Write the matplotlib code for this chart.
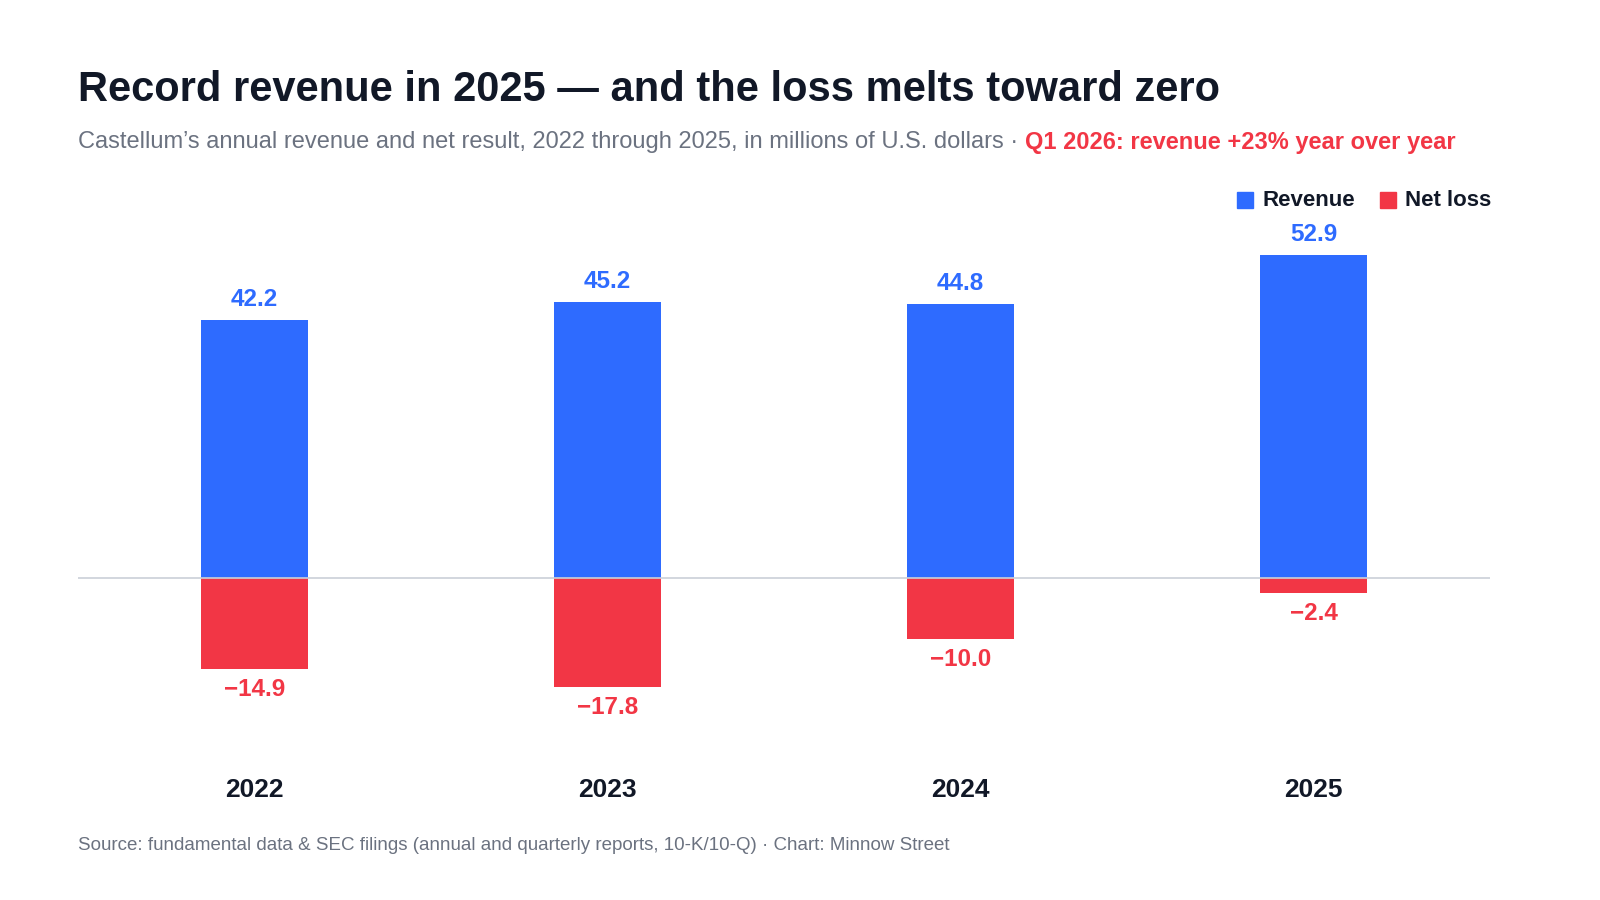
import matplotlib.pyplot as plt

years = ["2022", "2023", "2024", "2025"]
revenue = [42.2, 45.2, 44.8, 52.9]
net_loss = [-14.9, -17.8, -10.0, -2.4]

BLUE = "#2e6bff"
RED = "#f23645"
DARK = "#111827"
GREY = "#6b7280"

plt.rcParams['font.family'] = ['Liberation Sans', 'DejaVu Sans']

fig = plt.figure(figsize=(16, 9), dpi=100)
ax = fig.add_axes([0.04875, 0.1556, 0.8825, 0.6222])
x = range(len(years))
ax.bar(x, revenue, width=0.303, color=BLUE, zorder=2)
ax.bar(x, net_loss, width=0.303, color=RED, zorder=2)
ax.axhline(0, color="#cbd0d8", lw=1.2, zorder=3)
for i in x:
    ax.text(i, revenue[i] + 1.5, f"{revenue[i]:.1f}", ha="center", va="bottom",
            color=BLUE, fontsize=17.5, fontweight="bold")
    ax.text(i, net_loss[i] - 1.5, f"\u2212{abs(net_loss[i]):.1f}", ha="center", va="top",
            color=RED, fontsize=17.5, fontweight="bold")
    ax.text(i, -34.8, years[i], ha="center", va="center", color=DARK,
            fontsize=19, fontweight="bold", clip_on=False)
ax.set_xlim(-0.5, 3.5)
ax.set_ylim(-29.8, 61.9)
ax.axis("off")

fig.text(0.04875, 0.9, "Record revenue in 2025 \u2014 and the loss melts toward zero",
         fontsize=30, fontweight="bold", color=DARK, va="center")
t = fig.text(0.04875, 0.842, "Castellum\u2019s annual revenue and net result, 2022 through 2025, in millions of U.S. dollars \u00b7 ",
             fontsize=17, color=GREY, va="center")
fig.canvas.draw()
bb = t.get_window_extent()
fig.text(bb.x1 / 1600, 0.842, "Q1 2026: revenue +23% year over year",
         fontsize=17, color=RED, fontweight="bold", va="center")

# legend
fig.patches.append(plt.Rectangle((1237 / 1600, 1 - 208 / 900), 16 / 1600, 16 / 900,
                                 transform=fig.transFigure, color=BLUE))
fig.text(1262 / 1600, 1 - 200 / 900, "Revenue", fontsize=16, fontweight="bold", color=DARK, va="center")
fig.patches.append(plt.Rectangle((1380 / 1600, 1 - 208 / 900), 16 / 1600, 16 / 900,
                                 transform=fig.transFigure, color=RED))
fig.text(1405 / 1600, 1 - 200 / 900, "Net loss", fontsize=16, fontweight="bold", color=DARK, va="center")

fig.text(0.04875, 1 - 845 / 900,
         "Source: fundamental data & SEC filings (annual and quarterly reports, 10-K/10-Q) \u00b7 Chart: Minnow Street",
         fontsize=13.5, color=GREY, va="center")

fig.savefig("out.png", dpi=100, facecolor="white")
